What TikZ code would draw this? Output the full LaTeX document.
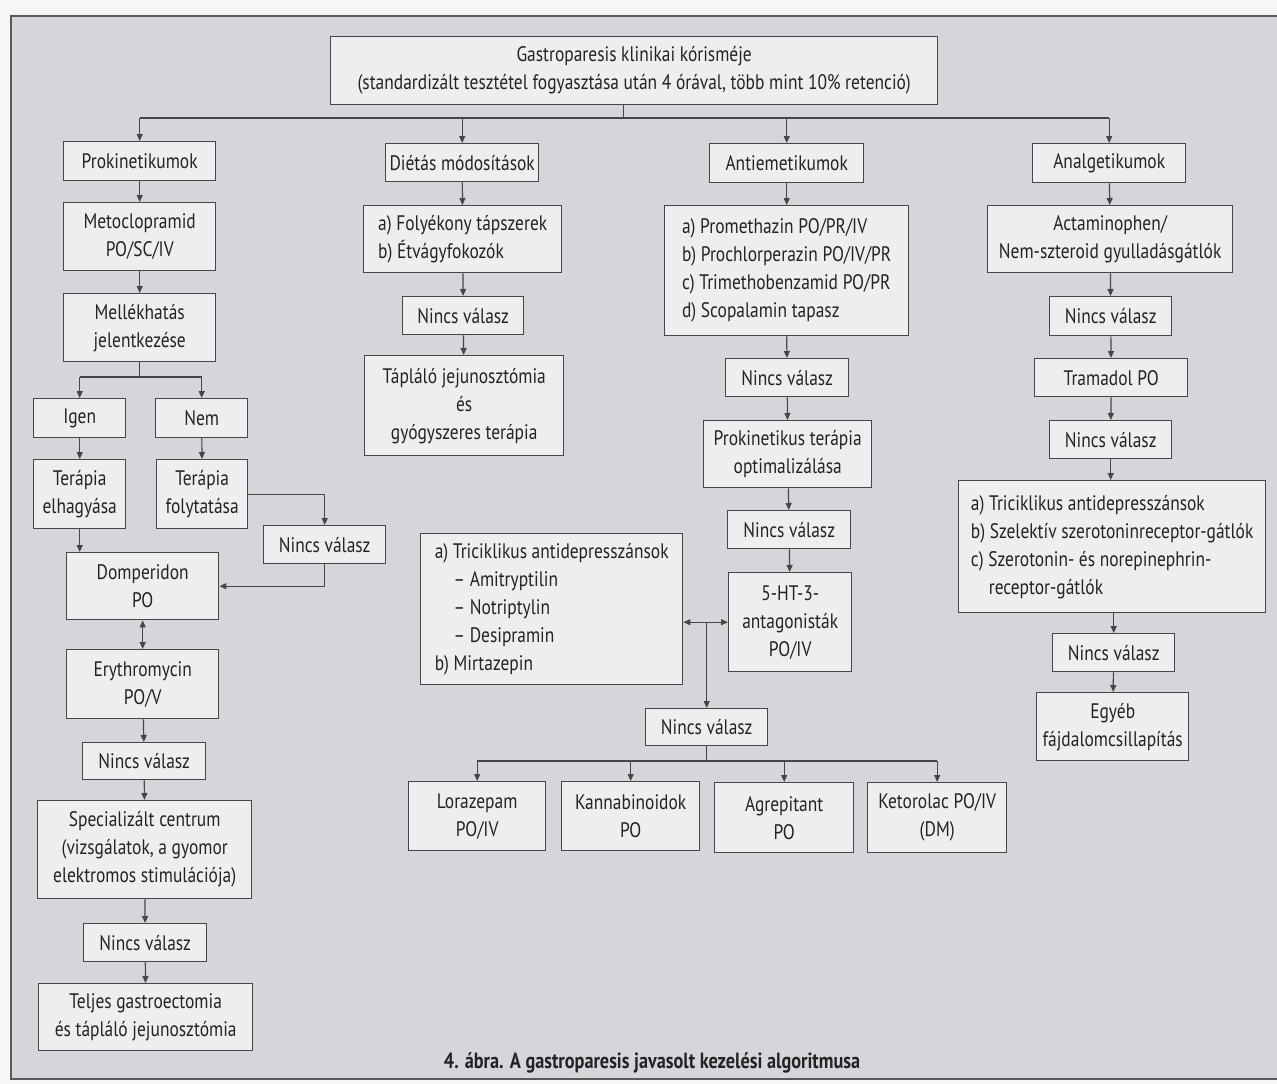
\documentclass[tikz,border=0pt]{standalone}
\usepackage{fontspec}
\setmainfont{PT Sans}[FakeStretch=0.83]
\usetikzlibrary{arrows.meta}
\definecolor{bgc}{RGB}{214,214,218}
\definecolor{boxc}{RGB}{238,238,240}
\definecolor{linec}{RGB}{70,70,72}
\definecolor{txtc}{RGB}{35,35,38}
\definecolor{paper}{RGB}{246,246,246}
\tikzset{
  box/.style={draw=linec, line width=1.4pt, fill=boxc, inner sep=0pt, text=txtc,
    font=\fontsize{21}{28}\selectfont},
  conn/.style={draw=linec, line width=1.2pt},
  arr/.style={conn, -{Triangle[length=7pt,width=6pt]}},
  darr/.style={conn, {Triangle[length=7pt,width=6pt]}-{Triangle[length=7pt,width=6pt]}},
}
\newcommand\bx[7][center]{%
  \node[box, align=#1, anchor=north west,
        minimum width={(#5-#3)*1pt}, minimum height={(#6-#4)*1pt}] (#2) at (#3,#4) {#7};}
\begin{document}
\begin{tikzpicture}[x=1pt,y=-1pt]
\useasboundingbox (0,0) rectangle (1277,1084);
\fill[paper] (0,0) rectangle (1277,1084);
\filldraw[fill=bgc, draw=linec!90, line width=2.5pt] (11,16) rectangle (1292,1079);

% top
\bx{top}{330}{36}{937}{104}{Gastroparesis klinikai kórisméje\\(standardizált tesztétel fogyasztása után 4 órával, több mint 10\% retenció)}

% column 1
\bx{prok}{63}{141}{215}{180}{Prokinetikumok}
\bx{meto}{63}{202}{215}{270}{Metoclopramid\\PO/SC/IV}
\bx{mell}{63}{293}{215}{361}{Mellékhatás\\jelentkezése}
\bx{igen}{33}{398}{125}{437}{Igen}
\bx{nem}{155}{398}{247}{437}{Nem}
\bx{terel}{33}{459}{125}{528}{Terápia\\elhagyása}
\bx{terfoly}{156}{459}{247}{528}{Terápia\\folytatása}
\bx{nv1}{263}{525}{385}{563}{Nincs válasz}
\bx{domp}{66}{552}{218}{619}{Domperidon\\PO}
\bx{eryth}{66}{649}{218}{718}{Erythromycin\\PO/V}
\bx{nv2}{82}{742}{205}{779}{Nincs válasz}
\bx{spec}{37}{800}{251}{898}{Specializált centrum\\(vizsgálatok, a gyomor\\elektromos stimulációja)}
\bx{nv3}{83}{923}{206}{961}{Nincs válasz}
\bx{teljes}{38}{983}{252}{1050}{Teljes gastroectomia\\és tápláló jejunosztómia}

% column 2
\bx{diet}{385}{143}{538}{181}{Diétás módosítások}
\bx[left]{foly}{363}{205}{561}{272}{a) Folyékony tápszerek\\b) Étvágyfokozók}
\bx{nv4}{402}{296}{523}{334}{Nincs válasz}
\bx{tapl}{364}{355}{563}{455}{Tápláló jejunosztómia\\és\\gyógyszeres terápia}
\bx[left]{tri}{420}{533}{682}{684}{a) Triciklikus antidepresszánsok\\\hspace*{0.9em}– Amitryptilin\\\hspace*{0.9em}– Notriptylin\\\hspace*{0.9em}– Desipramin\\b) Mirtazepin}

% column 3
\bx{anti}{709}{143}{863}{182}{Antiemetikumok}
\bx[left]{prom}{664}{205}{908}{335}{a) Promethazin PO/PR/IV\\b) Prochlorperazin PO/IV/PR\\c) Trimethobenzamid PO/PR\\d) Scopalamin tapasz}
\bx{nv5}{725}{358}{848}{396}{Nincs válasz}
\bx{prokter}{703}{420}{871}{487}{Prokinetikus terápia\\optimalizálása}
\bx{nv6}{727}{510}{850}{548}{Nincs válasz}
\bx{ht}{728}{572}{851}{671}{5-HT-3-\\antagonisták\\PO/IV}
\bx{nv7}{645}{708}{767}{745}{Nincs válasz}
\bx{lora}{408}{781}{545}{850}{Lorazepam\\PO/IV}
\bx{kann}{561}{781}{699}{850}{Kannabinoidok\\PO}
\bx{agre}{714}{782}{853}{852}{Agrepitant\\PO}
\bx{keto}{867}{782}{1006}{852}{Ketorolac PO/IV\\(DM)}

% column 4
\bx{anal}{1032}{143}{1185}{182}{Analgetikumok}
\bx{act}{987}{205}{1232}{272}{Actaminophen/\\Nem-szteroid gyulladásgátlók}
\bx{nv8}{1049}{296}{1171}{335}{Nincs válasz}
\bx{tram}{1034}{358}{1187}{396}{Tramadol PO}
\bx{nv9}{1049}{420}{1171}{458}{Nincs válasz}
\bx[left]{tri2}{958}{480}{1265}{612}{a) Triciklikus antidepresszánsok\\b) Szelektív szerotoninreceptor-gátlók\\c) Szerotonin- és norepinephrin-\\\hspace*{0.85em}receptor-gátlók}
\bx{nv10}{1052}{633}{1174}{671}{Nincs válasz}
\bx{egyeb}{1036}{692}{1188}{760}{Egyéb\\fájdalomcsillapítás}

% caption
\node[text=txtc, font=\fontsize{22}{26}\selectfont\bfseries] (cap) at (652,1063) {4. ábra. A gastroparesis javasolt kezelési algoritmusa};

% top-level connectors
\coordinate (r1) at (0,118);
\coordinate (ts) at ([xshift=-11pt]top.south);
\draw[conn] (ts) -- (ts |- r1);
\draw[conn] (prok.north |- r1) -- (anal.north |- r1);
\draw[arr] (prok.north |- r1) -- (prok.north);
\draw[arr] (diet.north |- r1) -- (diet.north);
\draw[arr] (anti.north |- r1) -- (anti.north);
\draw[arr] (anal.north |- r1) -- (anal.north);

% column 1
\draw[arr] (prok) -- (meto);
\draw[arr] (meto) -- (mell);
\coordinate (r2) at (0,377);
\draw[conn] (mell.south) -- (mell.south |- r2);
\draw[conn] (igen.north |- r2) -- (nem.north |- r2);
\draw[arr] (igen.north |- r2) -- (igen.north);
\draw[arr] (nem.north |- r2) -- (nem.north);
\draw[arr] (igen) -- (terel);
\draw[arr] (nem) -- (terfoly);
\draw[arr] (terfoly.east) -| (nv1.north);
\draw[arr] (nv1.south) |- (domp.east);
\draw[arr] (terel.south) -- (terel.south |- domp.north);
\draw[darr] (domp) -- (eryth);
\draw[arr] (eryth) -- (nv2);
\draw[arr] (nv2) -- (spec);
\draw[arr] (spec) -- (nv3);
\draw[arr] (nv3) -- (teljes);

% column 2
\draw[arr] (diet) -- (foly);
\draw[arr] (foly) -- (nv4);
\draw[arr] (nv4) -- (tapl);

% column 3
\draw[arr] (anti) -- (prom);
\draw[arr] (prom.south -| anti) -- (nv5);
\draw[arr] (nv5) -- (prokter);
\draw[arr] (prokter) -- (nv6);
\draw[arr] (nv6) -- (ht);
\draw[darr] (tri.east |- ht.west) -- (ht.west);
\draw[arr] (nv7.north |- ht.west) -- (nv7.north);
\coordinate (r3) at (0,761);
\draw[conn] (nv7.south) -- (nv7.south |- r3);
\draw[conn] (lora.north |- r3) -- (keto.north |- r3);
\draw[arr] (lora.north |- r3) -- (lora.north);
\draw[arr] (kann.north |- r3) -- (kann.north);
\draw[arr] (agre.north |- r3) -- (agre.north);
\draw[arr] (keto.north |- r3) -- (keto.north);

% column 4
\draw[arr] (anal) -- (act);
\draw[arr] (act) -- (nv8);
\draw[arr] (nv8) -- (tram);
\draw[arr] (tram) -- (nv9);
\draw[arr] (nv9) -- (tri2.north -| nv9);
\draw[arr] (tri2.south -| nv10) -- (nv10);
\draw[arr] (nv10) -- (egyeb);
\end{tikzpicture}
\end{document}
